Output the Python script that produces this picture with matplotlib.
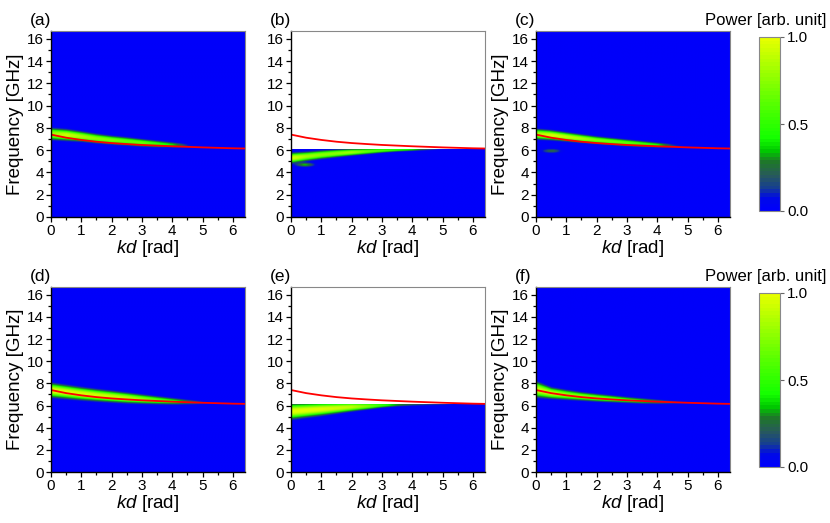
import numpy as np
import matplotlib.pyplot as plt
from matplotlib.colors import LinearSegmentedColormap

plt.rcParams['font.family'] = ['Liberation Sans', 'DejaVu Sans']
plt.rcParams['mathtext.fontset'] = 'custom'
plt.rcParams['mathtext.rm'] = 'Liberation Sans'
plt.rcParams['mathtext.it'] = 'Liberation Sans:italic'

kd_knots = [0, 0.5, 1, 1.5, 2, 2.5, 3, 3.5, 4, 4.5, 5, 5.5, 6, 6.4]

# red dispersion curve (GHz), same in every panel
red_curve = [7.40, 7.12, 6.92, 6.76, 6.64, 6.55, 6.47, 6.41, 6.35, 6.30, 6.25, 6.21, 6.17, 6.15]

panel_labels = ['(a)', '(b)', '(c)', '(d)', '(e)', '(f)']

# band centre (GHz), width (GHz) and peak power for each panel
center_a = [7.42, 7.32, 7.18, 7.0, 6.86, 6.75, 6.62, 6.52, 6.44, 6.36, 6.3, 6.25, 6.2, 6.18]
width_a = [0.32, 0.3, 0.27, 0.25, 0.23, 0.22, 0.2, 0.18, 0.15, 0.13, 0.12, 0.1, 0.1, 0.1]
power_a = [0.78, 0.92, 0.82, 0.74, 0.72, 0.65, 0.66, 0.52, 0.38, 0.1, 0.0, 0.0, 0.0, 0.0]

center_b = [5.3, 5.45, 5.6, 5.72, 5.82, 5.9, 5.98, 6.03, 6.06, 6.08, 6.1, 6.1, 6.1, 6.1]
width_b = [0.28, 0.25, 0.23, 0.21, 0.18, 0.16, 0.13, 0.1, 0.08, 0.06, 0.05, 0.05, 0.05, 0.05]
power_b = [0.95, 0.8, 0.75, 0.75, 0.8, 0.65, 0.58, 0.5, 0.4, 0.2, 0.05, 0.0, 0.0, 0.0]

center_c = [7.4, 7.3, 7.15, 7.0, 6.86, 6.74, 6.62, 6.52, 6.43, 6.36, 6.3, 6.25, 6.2, 6.18]
width_c = [0.28, 0.26, 0.24, 0.22, 0.2, 0.19, 0.18, 0.16, 0.14, 0.12, 0.1, 0.1, 0.1, 0.1]
power_c = [0.82, 0.95, 0.88, 0.82, 0.72, 0.68, 0.64, 0.56, 0.45, 0.15, 0.0, 0.0, 0.0, 0.0]

center_d = [7.38, 7.22, 7.06, 6.92, 6.8, 6.68, 6.57, 6.47, 6.38, 6.31, 6.25, 6.2, 6.17, 6.15]
width_d = [0.38, 0.36, 0.34, 0.32, 0.3, 0.28, 0.25, 0.22, 0.19, 0.15, 0.12, 0.1, 0.1, 0.1]
power_d = [0.98, 0.97, 0.95, 0.93, 0.9, 0.85, 0.75, 0.62, 0.48, 0.28, 0.1, 0.0, 0.0, 0.0]

center_e = [5.45, 5.55, 5.65, 5.75, 5.85, 5.92, 6.0, 6.05, 6.08, 6.1, 6.1, 6.1, 6.1, 6.1]
width_e = [0.42, 0.38, 0.34, 0.29, 0.24, 0.19, 0.14, 0.11, 0.09, 0.08, 0.07, 0.06, 0.05, 0.05]
power_e = [0.98, 0.98, 0.97, 0.93, 0.88, 0.72, 0.52, 0.32, 0.22, 0.16, 0.12, 0.06, 0.0, 0.0]

center_f = [7.45, 7.12, 6.96, 6.82, 6.7, 6.6, 6.5, 6.41, 6.34, 6.28, 6.24, 6.2, 6.17, 6.15]
width_f = [0.42, 0.3, 0.26, 0.23, 0.21, 0.19, 0.17, 0.16, 0.14, 0.12, 0.1, 0.1, 0.1, 0.1]
power_f = [0.92, 0.88, 0.78, 0.72, 0.68, 0.62, 0.52, 0.42, 0.28, 0.14, 0.06, 0.0, 0.0, 0.0]

# small extra spots (kd, GHz, power)
spot_b = [0.45, 4.7, 0.35]
spot_c = [0.5, 5.9, 0.25]

# upper frequency of the simulated window; b and e end at 6.1 GHz
f_top = [16.7, 6.1, 16.7, 16.7, 6.1, 16.7]

# colour map stops (position, rgb)
cmap_pos = [0.0, 0.07, 0.12, 0.2, 0.28, 0.34, 0.42, 0.6, 1.0]
cmap_rgb = [(0, 0, 250), (0, 10, 230), (20, 60, 150), (40, 90, 90), (30, 120, 40),
            (0, 200, 0), (20, 255, 0), (80, 255, 0), (230, 255, 0)]

cmap = LinearSegmentedColormap.from_list(
    'power', [(p, tuple(c / 255 for c in rgb)) for p, rgb in zip(cmap_pos, cmap_rgb)], N=48)

centers = [center_a, center_b, center_c, center_d, center_e, center_f]
widths = [width_a, width_b, width_c, width_d, width_e, width_f]
powers = [power_a, power_b, power_c, power_d, power_e, power_f]
spots = [None, spot_b, spot_c, None, None, None]


def band_image(center, width, power, spot, ftop):
    kd = np.linspace(0, 6.4, 260)
    fr = np.linspace(0, ftop, int(ftop * 40))
    c = np.interp(kd, kd_knots, center)
    w = np.interp(kd, kd_knots, width)
    p = np.interp(kd, kd_knots, power)
    img = p[None, :] * np.exp(-0.5 * np.abs((fr[:, None] - c[None, :]) / w[None, :]) ** 2.5)
    if spot is not None:
        img += spot[2] * np.exp(-0.5 * (((kd[None, :] - spot[0]) / 0.2) ** 2
                                        + ((fr[:, None] - spot[1]) / 0.12) ** 2))
    return np.clip(img, 0, 1)


W, H = 830, 523
fig = plt.figure(figsize=(W / 100, H / 100), dpi=100)

col_left = [51, 291, 536]
col_width = 194
row_top = [31, 287]
row_height = [186, 185]

for i in range(6):
    r, c = divmod(i, 3)
    x0 = col_left[c]
    ax = fig.add_axes([x0 / W, 1 - (row_top[r] + row_height[r]) / H,
                       col_width / W, row_height[r] / H])
    img = band_image(centers[i], widths[i], powers[i], spots[i], f_top[i])
    im = ax.imshow(img, origin='lower', aspect='auto', cmap=cmap, vmin=0, vmax=1,
                   extent=[0, 6.4, 0, f_top[i]], interpolation='bilinear')
    ax.plot(kd_knots, red_curve, color='red', lw=1.3)
    ax.set_xlim(0, 6.4)
    ax.set_ylim(0, 16.7)
    ax.set_xticks(range(7))
    ax.set_xticks(np.arange(0.5, 6.4, 1), minor=True)
    ax.set_yticks(range(0, 17, 2))
    ax.set_yticks(range(1, 17, 2), minor=True)
    ax.tick_params(which='both', direction='out', labelsize=11, pad=1.5, width=0.9)
    ax.tick_params(which='major', length=3.5)
    ax.tick_params(which='minor', length=2)
    for s in ['left', 'bottom']:
        ax.spines[s].set_linewidth(1.0)
    for s in ['top', 'right']:
        ax.spines[s].set_color('#888888')
        ax.spines[s].set_linewidth(0.8)
    ax.set_xlabel(r'$kd$ [rad]', fontsize=13.5, labelpad=0)
    if c != 1:
        ax.set_ylabel('Frequency [GHz]', fontsize=13.5, labelpad=2)
    fig.text((x0 - 21) / W, 1 - (row_top[r] - 11) / H, panel_labels[i],
             fontsize=12.5, va='center', ha='left')

    if c == 2:
        cb_top = row_top[r] + 6
        cax = fig.add_axes([759 / W, 1 - (cb_top + 174) / H, 21 / W, 174 / H])
        cb = fig.colorbar(im, cax=cax, ticks=[0, 0.5, 1])
        cb.ax.set_yticklabels(['0.0', '0.5', '1.0'])
        cb.ax.tick_params(labelsize=11, length=3, width=0.8, color='#666666', pad=2)
        cb.outline.set_edgecolor('#888888')
        cb.outline.set_linewidth(0.8)
        fig.text(826 / W, 1 - (row_top[r] - 11) / H, 'Power [arb. unit]',
                 fontsize=12, ha='right', va='center')

fig.savefig('out.png', dpi=100)
